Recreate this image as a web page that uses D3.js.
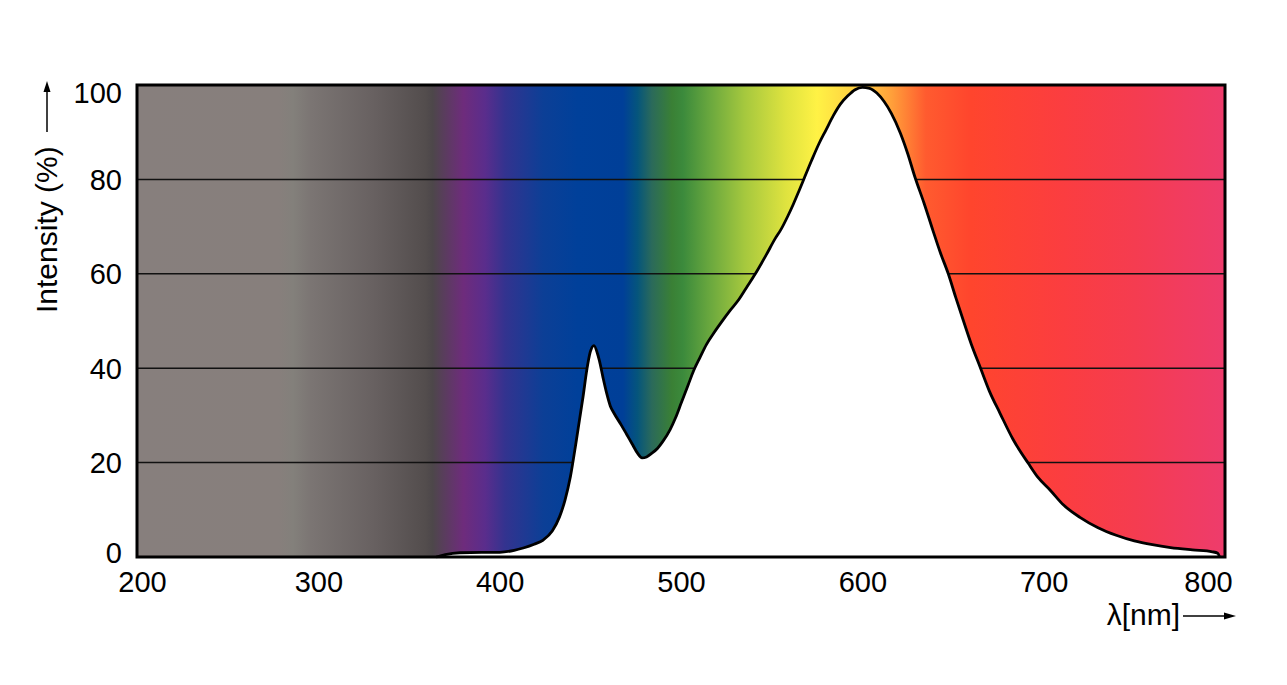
<!DOCTYPE html>
<html>
<head>
<meta charset="utf-8">
<script src="https://cdn.jsdelivr.net/npm/d3@7"></script>
<style>
  body { margin: 0; background: #fff; }
  svg text { font-family: Arial, "Liberation Sans", sans-serif; fill: #000; }
</style>
</head>
<body>
<svg id="chart" width="1287" height="685"></svg>
<script>
// spectrum curve
const wavelengths = [365, 370, 378, 390, 400, 408, 413, 419, 424, 429, 433, 436, 439, 442, 444, 446, 448, 450, 452, 454,
  455, 457, 459, 461, 463, 467, 470, 473, 476, 478.5, 481, 484, 487, 490, 494, 497, 500, 504, 507, 510.5,
  514, 518, 522, 527, 532, 536, 541, 547, 552, 555, 559, 562, 565, 568, 572, 576, 580, 584, 588, 592,
  596, 600, 604, 608, 612, 616, 621, 625, 629, 634, 639, 643, 647.4, 651.5, 655.7, 660, 665, 670, 676, 683,
  691.6, 697, 703.5, 711, 720, 730, 740, 750, 760, 770, 782, 793, 796, 797]
const intensity = [0, 0.5, 0.9, 1.0, 1.0, 1.4, 1.9, 2.7, 3.6, 5.5, 8.5, 12, 17, 24, 29, 34, 39.5, 43.5, 44.8, 43,
  41.6, 38, 34.7, 32, 30.5, 28, 26, 24, 22, 21, 21.2, 22, 23, 24.5, 27, 29.5, 32.5, 36.5, 39.5, 42.3,
  45, 47.4, 49.6, 52.2, 54.6, 57, 60, 64, 67.5, 69.3, 72.3, 74.8, 77.5, 80.3, 84, 87.5, 90.5, 93.5, 96, 97.7,
  99, 99.5, 99.3, 98.3, 96.5, 94, 89.8, 85.5, 80.5, 75, 69.1, 64.5, 60, 55, 50.1, 45.2, 40.2, 35.2, 30.4, 25,
  19.8, 16.8, 14.2, 11, 8.4, 6.2, 4.6, 3.4, 2.6, 2.0, 1.5, 1.1, 0.8, 0]

// background spectrum colours
const stopNm = [200, 278, 286, 296, 330, 359, 363, 380, 392, 403, 424, 443, 468, 476, 484, 495, 501, 516,
  535, 558, 575, 604, 616, 635, 660, 711, 750, 800]
const stopColors = ["#877f7d", "#877f7c", "#83807b", "#7b7573", "#686161", "#534d4d", "#4d474a", "#6e2c7c",
  "#5a2d8c", "#33338f", "#0c3f96", "#00409a", "#003f98", "#05557c", "#2b6a5a", "#3a8035", "#3b8a3c",
  "#6aa83e", "#a5c83e", "#dfe33f", "#fff245", "#ffc23f", "#ffa03a", "#ff5b2f", "#ff452d", "#fb3d40",
  "#f53c50", "#ee3c6c"]

const xTicks = [200, 300, 400, 500, 600, 700, 800]
const yTicks = [0, 20, 40, 60, 80, 100]

const margin = {top: 85, right: 62, bottom: 128, left: 137}
const width = 1287, height = 685
const innerW = width - margin.left - margin.right
const innerH = height - margin.top - margin.bottom

const svg = d3.select("#chart")
const g = svg.append("g").attr("transform", `translate(${margin.left},${margin.top})`)

const x = d3.scaleLinear().domain([200, 800]).range([0, innerW])
const y = d3.scaleLinear().domain([0, 100]).range([innerH, 0])

// gradient
const defs = svg.append("defs")
const grad = defs.append("linearGradient")
  .attr("id", "spec")
  .attr("gradientUnits", "userSpaceOnUse")
  .attr("x1", x(200)).attr("x2", x(800))
  .attr("y1", 0).attr("y2", 0)
grad.selectAll("stop")
  .data(stopNm)
  .enter().append("stop")
  .attr("offset", d => (d - 200) / 600)
  .attr("stop-color", (d, i) => stopColors[i])

g.append("rect")
  .attr("width", innerW)
  .attr("height", innerH)
  .attr("fill", "url(#spec)")

// grid lines
g.append("g")
  .selectAll("line")
  .data(yTicks.filter(t => t > 0 && t < 100))
  .enter().append("line")
  .attr("x1", 0).attr("x2", innerW)
  .attr("y1", d => y(d)).attr("y2", d => y(d))
  .attr("stroke", "#111")
  .attr("stroke-width", 1.5)

const pts = wavelengths.map((w, i) => [w, intensity[i]])

const area = d3.area()
  .x(d => x(d[0]))
  .y0(y(0))
  .y1(d => y(d[1]))
  .curve(d3.curveMonotoneX)

const line = d3.line()
  .x(d => x(d[0]))
  .y(d => y(d[1]))
  .curve(d3.curveMonotoneX)

g.append("path")
  .datum(pts)
  .attr("d", area)
  .attr("fill", "#fff")

g.append("path")
  .datum(pts)
  .attr("d", line)
  .attr("fill", "none")
  .attr("stroke", "#000")
  .attr("stroke-width", 2.8)
  .attr("stroke-linejoin", "round")

// frame
g.append("rect")
  .attr("width", innerW)
  .attr("height", innerH)
  .attr("fill", "none")
  .attr("stroke", "#000")
  .attr("stroke-width", 3)

// axes
const xAxis = g.append("g")
  .attr("transform", `translate(0,${innerH})`)
  .call(d3.axisBottom(x).tickValues(xTicks).tickSize(0).tickPadding(14))
xAxis.select(".domain").remove()
xAxis.selectAll("text")
  .style("font-size", "29px")
  .attr("dx", d => d === 200 ? 5 : d === 800 ? -17 : 0)

const yAxis = g.append("g")
  .call(d3.axisLeft(y).tickValues(yTicks).tickSize(0).tickPadding(15))
yAxis.select(".domain").remove()
yAxis.selectAll("text")
  .style("font-size", "29px")
  .attr("dy", d => d === 100 ? "0.62em" : d === 0 ? "0.18em" : "0.34em")

// y axis title with arrow
svg.append("text")
  .attr("transform", "translate(57,313) rotate(-90)")
  .attr("text-anchor", "start")
  .style("font-size", "30px")
  .text("Intensity (%)")

svg.append("line")
  .attr("x1", 47).attr("x2", 47)
  .attr("y1", 132).attr("y2", 90)
  .attr("stroke", "#000").attr("stroke-width", 1.5)
svg.append("path")
  .attr("d", "M47,81 L43.5,92 L50.5,92 Z")
  .attr("fill", "#000")

// x axis title with arrow
svg.append("text")
  .attr("x", 1180).attr("y", 625)
  .attr("text-anchor", "end")
  .style("font-size", "30px")
  .text("λ[nm]")

svg.append("line")
  .attr("x1", 1183).attr("x2", 1226)
  .attr("y1", 616).attr("y2", 616)
  .attr("stroke", "#000").attr("stroke-width", 1.5)
svg.append("path")
  .attr("d", "M1236,616 L1224,612.5 L1224,619.5 Z")
  .attr("fill", "#000")
</script>
</body>
</html>
